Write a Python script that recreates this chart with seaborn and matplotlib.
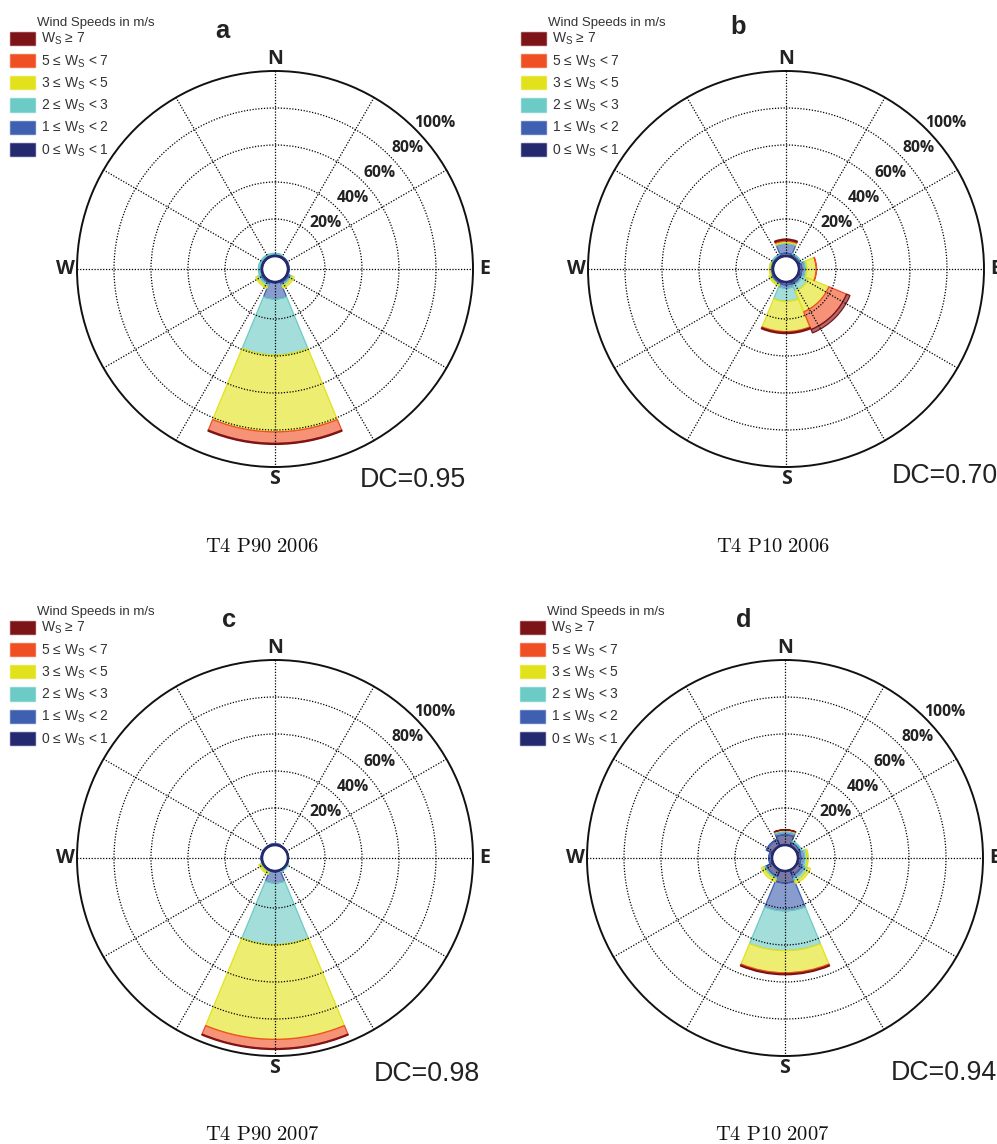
import numpy as np
import matplotlib
matplotlib.use('Agg')
import matplotlib.pyplot as plt
import seaborn as sns
from matplotlib.colors import to_rgba
from matplotlib.patches import Patch

# direction sectors (compass bearing, degrees)
directions = ['N', 'NE', 'E', 'SE', 'S', 'SW', 'W', 'NW']
bearings = [0, 45, 90, 135, 180, 225, 270, 315]

# speed bins, inner to outer
speed_bins = ['0-1', '1-2', '2-3', '3-5', '5-7', '>=7']
speed_colors = ['#25296f', '#3f5fb0', '#6ccbc4', '#e2e21c', '#f04f24', '#7c1418']
legend_labels = ['0 ≤ W$_\\mathregular{S}$ < 1', '1 ≤ W$_\\mathregular{S}$ < 2',
                 '2 ≤ W$_\\mathregular{S}$ < 3', '3 ≤ W$_\\mathregular{S}$ < 5',
                 '5 ≤ W$_\\mathregular{S}$ < 7', 'W$_\\mathregular{S}$ ≥ 7']

# frequency (%) per direction (rows) and speed bin (columns)
freq_a = [[0.8, 0.4, 0.3, 0.0, 0.0, 0.0],
          [0.5, 0.3, 0.0, 0.0, 0.0, 0.0],
          [0.5, 0.2, 0.0, 0.0, 0.0, 0.0],
          [1.0, 1.0, 1.0, 1.2, 0.0, 0.0],
          [0.5, 8.7, 30.2, 41.6, 6.2, 0.6],
          [1.0, 1.0, 1.3, 1.0, 0.0, 0.0],
          [0.8, 0.5, 0.7, 0.0, 0.0, 0.0],
          [0.8, 0.5, 0.5, 0.0, 0.0, 0.0]]
freq_b = [[1.5, 5.0, 0.7, 0.8, 0.6, 0.6],
          [1.5, 0.3, 0.2, 0.0, 0.0, 0.0],
          [1.5, 1.7, 1.0, 5.1, 0.2, 0.0],
          [1.5, 1.0, 3.5, 12.0, 10.4, 2.0],
          [1.5, 1.8, 7.1, 16.4, 0.5, 0.6],
          [1.2, 0.6, 0.4, 0.8, 0.0, 0.0],
          [1.2, 0.3, 0.2, 0.3, 0.0, 0.0],
          [1.2, 0.3, 0.2, 0.0, 0.0, 0.0]]
freq_c = [[0.5, 0.3, 0.0, 0.0, 0.0, 0.0],
          [0.3, 0.0, 0.0, 0.0, 0.0, 0.0],
          [0.3, 0.0, 0.0, 0.0, 0.0, 0.0],
          [0.5, 0.3, 0.2, 0.0, 0.0, 0.0],
          [0.5, 6.0, 33.3, 51.2, 5.0, 0.5],
          [0.5, 0.5, 0.5, 1.0, 0.0, 0.0],
          [0.4, 0.2, 0.0, 0.0, 0.0, 0.0],
          [0.4, 0.2, 0.0, 0.0, 0.0, 0.0]]
freq_d = [[5.5, 1.5, 0.8, 0.3, 0.1, 0.1],
          [2.0, 0.6, 0.4, 0.0, 0.0, 0.0],
          [1.5, 2.0, 1.5, 0.6, 0.0, 0.0],
          [3.0, 1.9, 1.6, 1.4, 0.0, 0.0],
          [6.5, 15.0, 21.5, 12.0, 0.6, 0.5],
          [3.8, 0.7, 1.0, 1.4, 0.0, 0.0],
          [1.5, 0.3, 0.0, 0.0, 0.0, 0.0],
          [3.8, 0.2, 0.0, 0.0, 0.0, 0.0]]

panel_freqs = [freq_a, freq_b, freq_c, freq_d]
panel_titles = ['T4 P90 2006', 'T4 P10 2006', 'T4 P90 2007', 'T4 P10 2007']
panel_letters = ['a', 'b', 'c', 'd']
dc_values = [0.95, 0.70, 0.98, 0.94]
ring_levels = [20, 40, 60, 80, 100]
compass = ['N', 'E', 'S', 'W']

# layout (pixels)
W, H = 997, 1144
centers = [(275, 269), (786, 269), (275, 858), (785, 858)]
dc_offsets = [(85, 218), (106, 214), (99, 223), (106, 222)]
letter_offsets = [(-53, -231), (-48, -235), (-46, -231), (-41, -231)]
R_OUT = 198
HOLE = 13

sns.set_theme(style='white')
plt.rcParams['font.family'] = ['Liberation Sans', 'DejaVu Sans']
plt.rcParams['mathtext.fontset'] = 'custom'
plt.rcParams['mathtext.rm'] = 'Liberation Sans'


def fx(x):
    return x / W


def fy(y):
    return 1 - y / H


fig = plt.figure(figsize=(W / 100, H / 100), dpi=100)

rorigin = -100 * HOLE / (R_OUT - HOLE)

for i in range(4):
    cx, cy = centers[i]
    ax = fig.add_axes([fx(cx - R_OUT), fy(cy + R_OUT), 2 * R_OUT / W, 2 * R_OUT / H],
                      projection='polar')
    ax.set_theta_zero_location('N')
    ax.set_theta_direction(-1)
    ax.set_ylim(0, 100)
    ax.set_rorigin(rorigin)
    ax.set_facecolor('white')

    freq = np.array(panel_freqs[i])
    cum = np.hstack([np.zeros((8, 1)), np.cumsum(freq, axis=1)])
    theta = np.deg2rad(bearings)
    for k in range(6):
        m = freq[:, k] > 0
        ax.bar(theta[m], freq[m, k], bottom=cum[m, k], width=np.deg2rad(45),
               color=to_rgba(speed_colors[k], 0.62), edgecolor=speed_colors[k],
               linewidth=0.9, align='center')

    ax.set_thetagrids(range(0, 360, 30), labels=[])
    ax.set_rgrids([20, 40, 60, 80], labels=[])
    ax.set_axisbelow(False)
    ax.grid(True, color='black', linestyle=(0, (1, 1.3)), linewidth=0.9)
    ax.spines['polar'].set_linewidth(1.4)
    ax.spines['polar'].set_color('#111111')
    # hole edge
    tt = np.linspace(0, 2 * np.pi, 200)
    ax.plot(tt, np.zeros_like(tt), color='#25296f', linewidth=1.8, clip_on=False, zorder=5)

    for lab, b in zip(compass, [0, 90, 180, 270]):
        ax.text(np.deg2rad(b), 106.3, lab, ha='center', va='center', fontsize=14,
                fontweight='bold', family=['Open Sans', 'DejaVu Sans'], color='#222222',
                clip_on=False)
    for lv in ring_levels:
        ax.text(np.deg2rad(47.5), lv + 10, f'{lv}%', ha='center', va='center',
                fontsize=11.3, fontweight='bold', family=['Open Sans', 'DejaVu Sans'],
                color='#222222', clip_on=False)

    # legend
    handles = [Patch(facecolor=c, edgecolor=to_rgba(c, 0.6), linewidth=1)
               for c in speed_colors[::-1]]
    ax.legend(handles, legend_labels[::-1], loc='upper left',
              bbox_to_anchor=(fx(cx - 265), fy(cy - 238)), bbox_transform=fig.transFigure,
              frameon=False, fontsize=10, handlelength=1.8, handleheight=1.08,
              handletextpad=0.45, labelspacing=0.42, borderpad=0, borderaxespad=0,
              labelcolor='#333333')
    fig.text(fx(cx - 238), fy(cy - 243), 'Wind Speeds in m/s', fontsize=9.5,
             color='#333333', va='baseline', ha='left')

    ox, oy = dc_offsets[i]
    fig.text(fx(cx + ox), fy(cy + oy), f'DC={dc_values[i]:.2f}', fontsize=19.3,
             color='#222222', va='baseline', ha='left')
    lx, ly = letter_offsets[i]
    fig.text(fx(cx + lx), fy(cy + ly), panel_letters[i], fontsize=18.4,
             fontweight='bold', color='#222222', va='baseline', ha='center')
    fig.text(fx(cx - 13), fy(cy + 277),
             '$\\mathrm{' + panel_titles[i].replace(' ', '\\ ') + '}$',
             fontsize=14.8, math_fontfamily='cm', color='#111111',
             ha='center', va='center')

fig.savefig('out.png', dpi=100)
